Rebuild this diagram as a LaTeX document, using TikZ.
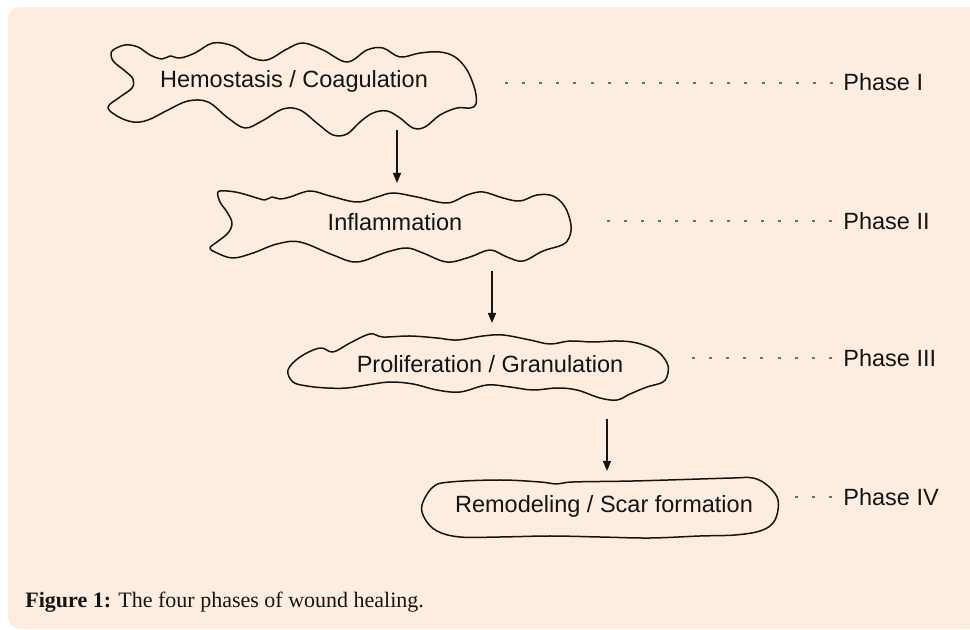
\documentclass[tikz,border=0pt]{standalone}
\usepackage{fontspec}
\setmainfont{Liberation Serif}
\newfontfamily\arialf{Liberation Sans}
\usetikzlibrary{arrows.meta}
\definecolor{bgbeige}{RGB}{253,237,224}
\definecolor{dotgray}{RGB}{110,110,110}
\definecolor{inkblack}{RGB}{20,20,20}
\tikzset{
  blob/.style={draw=inkblack, line width=0.75pt, line join=round},
  lbl/.style={font=\arialf\fontsize{11.75}{14}\selectfont, text=inkblack, inner sep=0pt},
  phase/.style={font=\arialf\fontsize{11.75}{14}\selectfont, text=inkblack, inner sep=0pt, anchor=west},
  flow/.style={draw=inkblack, line width=0.65pt, -{Triangle[length=5pt,width=4pt]}},
  dots/.style={draw=dotgray, line width=0.6pt, dash pattern=on 1.5pt off 7.05pt, shorten >=5pt},
}
\begin{document}
\begin{tikzpicture}[x=0.5pt,y=-0.5pt]
\useasboundingbox (0,0) rectangle (970,630);
\fill[bgbeige, rounded corners=6pt] (8,7) rectangle (990,629);

% blob 1
\draw[blob] plot[smooth cycle, tension=0.6] coordinates {
(113,50) (125,45) (138,47) (150,55) (162,59) (170,56) (180,58) (195,53) (213,43) (233,46)
(250,57) (267,60) (287,49) (303,43) (323,50) (347,62) (367,50) (383,48) (400,57) (420,53)
(440,52) (455,57) (467,70) (475,90) (476,104) (470,108) (457,108) (440,115) (425,127) (413,128)
(400,118) (387,111) (373,113) (360,122) (347,134) (333,135) (318,124) (300,110) (283,109) (262,121)
(245,128) (228,118) (208,102) (188,101) (168,110) (148,120) (133,122) (117,116) (108,107) (120,97)
(132,88) (133,79) (125,71) (114,62) (111,55)};
\node[lbl] (hem) at (294,81) {Hemostasis / Coagulation};

% blob 2
\draw[blob] plot[smooth cycle, tension=0.6] coordinates {
(218,192) (227,191) (240,193) (257,198) (265,200) (272,197) (280,199) (290,197) (310,191) (330,196)
(357,202) (377,197) (393,193) (417,197) (447,203) (467,195) (483,192) (503,198) (520,201) (537,195)
(553,196) (565,207) (571,225) (569,238) (562,245) (543,251) (523,261) (507,257) (490,250) (470,257)
(447,262) (423,253) (407,248) (387,252) (357,262) (333,255) (300,242) (277,244) (253,253) (233,258)
(217,253) (210,248) (217,242) (228,233) (232,223) (227,212) (220,202)};
\node[lbl] (inf) at (395,222) {Inflammation};

% blob 3
\draw[blob] plot[smooth cycle, tension=0.6] coordinates {
(288,370) (300,357) (320,348) (333,352) (350,343) (370,334) (383,337) (410,336) (437,338) (457,340)
(483,336) (503,335) (530,340) (550,344) (570,341) (593,342) (617,341) (637,343) (657,351) (667,363)
(668,373) (663,382) (647,387) (630,394) (617,400) (600,398) (577,390) (557,388) (533,390) (510,387)
(487,385) (460,392) (437,390) (413,384) (390,382) (367,385) (347,388) (327,388) (307,386) (293,382)};
\node[lbl] (pro) at (490,364) {Proliferation / Granulation};

% blob 4
\draw[blob] plot[smooth cycle, tension=0.6] coordinates {
(422,505) (433,487) (450,482) (500,480) (540,482) (557,484) (573,482) (633,481) (700,479) (733,478)
(753,478) (767,485) (777,497) (778,510) (773,523) (760,531) (735,535) (700,536) (650,538) (600,537)
(550,536) (500,537) (460,537) (437,531) (425,519)};
\node[lbl] (rem) at (604,506) {Remodeling / Scar formation};

% arrows
\coordinate (a1s) at (397,130); \coordinate (a1e) at (397,183);
\coordinate (a2s) at (492,271); \coordinate (a2e) at (492,323);
\coordinate (a3s) at (607,419); \coordinate (a3e) at (607,471);
\draw[flow] (a1s) -- (a1e);
\draw[flow] (a2s) -- (a2e);
\draw[flow] (a3s) -- (a3e);

% phases
\node[phase] (ph1) at (843,82) {Phase I};
\node[phase] (ph2) at (843,221) {Phase II};
\node[phase] (ph3) at (843,358) {Phase III};
\node[phase] (ph4) at (843,497) {Phase IV};
\coordinate (d1) at (505,83);
\coordinate (d2) at (607,221);
\coordinate (d3) at (692,358);
\coordinate (d4) at (795,497);
\draw[dots] (d1) -- (d1 -| ph1.west);
\draw[dots] (d2) -- (d2 -| ph2.west);
\draw[dots] (d3) -- (d3 -| ph3.west);
\draw[dots] (d4) -- (d4 -| ph4.west);

% caption
\node[anchor=base west, inner sep=0pt, font=\fontsize{11}{13}\selectfont, text=inkblack] (cap) at (25,608)
  {\textbf{Figure 1:} The four phases of wound healing.};
\end{tikzpicture}
\end{document}
